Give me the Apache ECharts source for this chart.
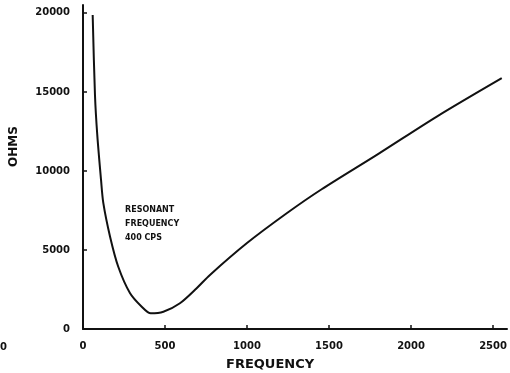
<!DOCTYPE html>
<html>
<head>
<meta charset="utf-8">
<script src="https://cdn.jsdelivr.net/npm/echarts@6/dist/echarts.min.js"></script>
<style>
  html, body { margin: 0; padding: 0; background: #ffffff; }
  #chart { width: 510px; height: 373px; }
</style>
</head>
<body>
<div id="chart"></div>
<script>
// Impedance of the tuned circuit versus frequency
const frequency = [59, 73, 87, 110, 124, 165, 215, 287, 358, 413, 490, 591, 693, 774, 998, 1242, 1455, 1801, 2157, 2553];
const ohms      = [19870, 14810, 12280, 9430, 7960, 5840, 3940, 2260, 1410, 990, 1090, 1630, 2580, 3420, 5420, 7320, 8840, 11080, 13440, 15870];

const xTicks = [0, 500, 1000, 1500, 2000, 2500];
const yTicks = [0, 5000, 10000, 15000, 20000];

const xTitle = 'FREQUENCY';
const yTitle = 'OHMS';
const noteLines = ['RESONANT', 'FREQUENCY', '400 CPS'];

const ink = '#111111';
const labelFont = { color: ink, fontFamily: 'DejaVu Sans', fontWeight: 'bold', fontSize: 10, formatter: v => String(v) };

const chart = echarts.init(document.getElementById('chart'), null, { renderer: 'canvas' });

chart.setOption({
  backgroundColor: '#ffffff',
  animation: false,
  grid: { left: 83, right: 3, top: 5, bottom: 44, containLabel: false },
  xAxis: {
    type: 'value',
    min: 0,
    max: 2585,
    splitLine: { show: false },
    axisLine: { show: true, onZero: false, lineStyle: { color: ink, width: 2 } },
    axisTick: { show: true, inside: true, length: 4, customValues: xTicks, lineStyle: { color: ink, width: 1.5 } },
    axisLabel: Object.assign({ customValues: xTicks, margin: 12 }, labelFont)
  },
  yAxis: {
    type: 'value',
    min: 0,
    max: 20500,
    splitLine: { show: false },
    axisLine: { show: true, onZero: false, lineStyle: { color: ink, width: 2 } },
    axisTick: { show: true, inside: true, length: 4, customValues: yTicks, lineStyle: { color: ink, width: 1.5 } },
    axisLabel: Object.assign({ customValues: yTicks, margin: 13 }, labelFont)
  },
  series: [{
    type: 'line',
    data: frequency.map((f, i) => [f, ohms[i]]),
    smooth: 0.3,
    symbol: 'none',
    lineStyle: { color: ink, width: 2 }
  }],
  graphic: [
    {
      type: 'text', left: 226, top: 358,
      style: { text: xTitle, fill: ink, font: 'bold 13px "DejaVu Sans"' }
    },
    {
      type: 'text', x: 8, y: 167, rotation: Math.PI / 2,
      style: { text: yTitle, fill: ink, font: 'bold 12px "DejaVu Sans"', textVerticalAlign: 'top' }
    },
    {
      type: 'text', left: 125, top: 203,
      style: { text: noteLines.join('\n'), fill: ink, font: 'bold 8px "DejaVu Sans"', lineHeight: 14 }
    },
    {
      type: 'text', left: 0, top: 342,
      style: { text: '0', fill: ink, font: 'bold 10px "DejaVu Sans"' }
    }
  ]
});
</script>
</body>
</html>
